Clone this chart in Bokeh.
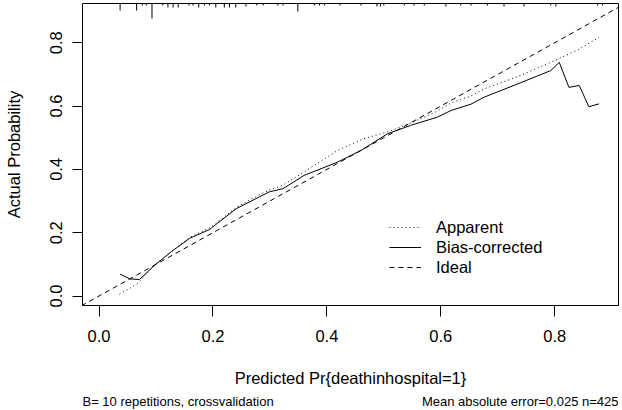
from bokeh.plotting import figure
from bokeh.layouts import column
from bokeh.models import Range1d, Label, Legend, LegendItem, FixedTicker, PrintfTickFormatter
from bokeh.embed import file_html
from bokeh.resources import INLINE

# ---- data ----
apparent_x = [0.036, 0.052, 0.068, 0.095, 0.127, 0.159, 0.194, 0.206, 0.241, 0.264, 0.299, 0.323,
              0.360, 0.419, 0.465, 0.506, 0.547, 0.594, 0.618, 0.653, 0.676, 0.735, 0.793, 0.840, 0.878]
apparent_y = [0.006, 0.022, 0.040, 0.092, 0.140, 0.185, 0.215, 0.230, 0.280, 0.303, 0.335, 0.350,
              0.392, 0.460, 0.497, 0.518, 0.546, 0.584, 0.610, 0.632, 0.654, 0.693, 0.738, 0.777, 0.817]

bias_x = [0.037, 0.054, 0.071, 0.098, 0.127, 0.159, 0.194, 0.206, 0.241, 0.264, 0.299, 0.323,
          0.360, 0.419, 0.460, 0.506, 0.547, 0.594, 0.618, 0.653, 0.676, 0.735, 0.793, 0.808,
          0.825, 0.843, 0.860, 0.878]
bias_y = [0.069, 0.054, 0.052, 0.098, 0.140, 0.182, 0.210, 0.227, 0.276, 0.297, 0.329, 0.339,
          0.381, 0.423, 0.460, 0.512, 0.539, 0.565, 0.586, 0.606, 0.628, 0.670, 0.712, 0.738,
          0.659, 0.665, 0.598, 0.607]

ideal_x = [-0.1, 1.0]
ideal_y = [-0.1, 1.0]

# rug of predicted values (relative frequencies)
rug_x = [0.037, 0.066, 0.076, 0.083, 0.093, 0.112, 0.121, 0.130, 0.139, 0.158, 0.165, 0.175,
         0.185, 0.194, 0.205, 0.220, 0.229, 0.240, 0.258, 0.277, 0.288, 0.314, 0.323, 0.349,
         0.378, 0.387, 0.396, 0.423, 0.460, 0.488, 0.494, 0.500, 0.536, 0.553, 0.571, 0.609,
         0.635, 0.653, 0.682, 0.711, 0.746, 0.793, 0.802, 0.875, 0.884]
rug_freq = [7, 7, 2, 2, 15, 2, 4, 4, 4, 2, 2, 4,
            2, 2, 4, 4, 4, 4, 3, 2, 2, 2, 2, 8,
            2, 2, 2, 2, 2, 3, 3, 2, 2, 2, 2, 3,
            2, 2, 2, 3, 3, 2, 3, 2, 2]

tick_values = [0.0, 0.2, 0.4, 0.6, 0.8]

footnote_left = "B= 10 repetitions, crossvalidation"
footnote_right = "Mean absolute error=0.025 n=425"

x_lo, x_hi = -0.029, 0.912
y_lo, y_hi = -0.030, 0.924

FONT = "Liberation Sans"

W, H = 622, 392
FOOT_H = 18
B_LEFT, B_RIGHT, B_TOP, B_BOTTOM = 82, 4, 3, 87
FRAME_W = W - B_LEFT - B_RIGHT
FRAME_H = H - B_TOP - B_BOTTOM

p = figure(width=W, height=H, output_backend="svg", toolbar_location=None,
           x_range=Range1d(x_lo, x_hi), y_range=Range1d(y_lo, y_hi),
           min_border_left=B_LEFT, min_border_right=B_RIGHT,
           min_border_top=B_TOP, min_border_bottom=B_BOTTOM)
p.grid.visible = False
p.outline_line_color = "black"
p.outline_line_width = 1
p.background_fill_color = "white"
p.border_fill_color = "white"

for ax in (p.xaxis[0], p.yaxis[0]):
    ax.ticker = FixedTicker(ticks=tick_values)
    ax.formatter = PrintfTickFormatter(format="%.1f")
    ax.minor_tick_line_color = None
    ax.major_tick_in = 0
    ax.axis_line_color = None
    ax.major_tick_line_color = "black"
    ax.major_label_text_font = FONT
    ax.major_label_text_font_size = "16.5px"
    ax.major_label_text_color = "black"
    ax.axis_label_text_font = FONT
    ax.axis_label_text_font_size = "16.5px"
    ax.axis_label_text_font_style = "normal"
    ax.axis_label_text_color = "black"

p.xaxis.major_tick_out = 11
p.xaxis.major_label_standoff = 13
p.xaxis.axis_label = "Predicted Pr{deathinhospital=1}"
p.xaxis.axis_label_standoff = 24

p.yaxis.major_tick_out = 10
p.yaxis.major_label_standoff = 10
p.yaxis.major_label_orientation = "vertical"
p.yaxis.axis_label = "Actual Probability"
p.yaxis.axis_label_standoff = 25

# rug along the top
px_unit = (y_hi - y_lo) / FRAME_H
p.segment(x0=rug_x, y0=[y_hi] * len(rug_x), x1=rug_x,
          y1=[y_hi - f * px_unit for f in rug_freq], line_color="black", line_width=1)

r_app = p.line(apparent_x, apparent_y, line_color="black", line_width=1, line_dash="1 3")
r_bias = p.line(bias_x, bias_y, line_color="black", line_width=1)
r_ideal = p.line(ideal_x, ideal_y, line_color="black", line_width=1, line_dash="5 4")

legend = Legend(items=[LegendItem(label="Apparent", renderers=[r_app]),
                       LegendItem(label="Bias-corrected", renderers=[r_bias]),
                       LegendItem(label="Ideal", renderers=[r_ideal])],
                location=(307, 28), border_line_alpha=0, background_fill_alpha=0,
                padding=0, margin=0, spacing=0, glyph_width=32, glyph_height=20,
                label_height=20, label_standoff=15,
                label_text_font=FONT, label_text_font_size="16.5px", label_text_color="black")
p.add_layout(legend)

# footnote strip under the plot (its frame is aligned with the main plot's frame)
f = figure(width=W, height=FOOT_H, output_backend="svg", toolbar_location=None,
           x_axis_type=None, y_axis_type=None, min_border=0,
           x_range=Range1d(0, 1), y_range=Range1d(0, 1))
f.grid.visible = False
f.outline_line_color = None
f.background_fill_color = "white"
f.border_fill_color = "white"
f.add_layout(Label(x=0, y=FOOT_H / 2, x_units="screen", y_units="screen",
                   text=footnote_left, text_font=FONT,
                   text_font_size="13px", text_baseline="middle", text_align="left",
                   text_color="black"))
f.add_layout(Label(x=FRAME_W, y=FOOT_H / 2, x_units="screen", y_units="screen",
                   text=footnote_right, text_font=FONT,
                   text_font_size="13px", text_baseline="middle", text_align="right",
                   text_color="black"))

layout = column(p, f, spacing=0)
open("out.html", "w").write(file_html(layout, INLINE))
